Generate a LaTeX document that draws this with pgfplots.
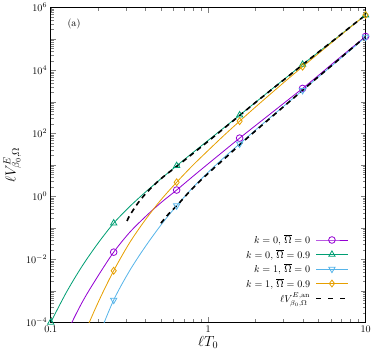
\documentclass[border=0pt]{standalone}
\usepackage{pgfplots}
\pgfplotsset{compat=1.18}
\definecolor{cpurple}{RGB}{148,0,211}
\definecolor{cgreen}{RGB}{0,158,115}
\definecolor{cblue}{RGB}{86,180,233}
\definecolor{corange}{RGB}{230,159,0}
\begin{document}
\begin{tikzpicture}
\begin{axis}[
  width=311pt, height=311pt, scale only axis,
  xmode=log, ymode=log,
  xmin=0.0999, xmax=10, ymin=0.999e-4, ymax=1e6,
  xtick={0.1,1,10}, xticklabels={$0.1$,$1$,$10$},
  minor xtick={0.2,0.3,0.4,0.5,0.6,0.7,0.8,0.9,2,3,4,5,6,7,8,9},
  ytick={1e-4,1e-3,1e-2,0.1,1,10,100,1000,1e4,1e5,1e6},
  yticklabels={$10^{-4}$,,$10^{-2}$,,$10^{0}$,,$10^{2}$,,$10^{4}$,,$10^{6}$},
  minor ytick={2e-4,3e-4,4e-4,5e-4,6e-4,7e-4,8e-4,9e-4,
    2e-3,3e-3,4e-3,5e-3,6e-3,7e-3,8e-3,9e-3,
    2e-2,3e-2,4e-2,5e-2,6e-2,7e-2,8e-2,9e-2,
    0.2,0.3,0.4,0.5,0.6,0.7,0.8,0.9,
    2,3,4,5,6,7,8,9,
    20,30,40,50,60,70,80,90,
    200,300,400,500,600,700,800,900,
    2000,3000,4000,5000,6000,7000,8000,9000,
    2e4,3e4,4e4,5e4,6e4,7e4,8e4,9e4,
    2e5,3e5,4e5,5e5,6e5,7e5,8e5,9e5},
  tick align=inside,
  major tick length=5pt, minor tick length=3pt,
  axis line style={line width=0.6pt},
  xlabel={$\ell T_0$}, ylabel={$\ell V^{E}_{\beta_0,\Omega}$},
  label style={font=\Large},
  xlabel style={yshift=3pt},
  ylabel style={yshift=-2pt},
  legend plot pos=right,
  legend cell align=right,
  legend style={draw=none, fill=none, at={(0.95,0.048)}, anchor=south east,
    row sep=0pt, inner sep=1pt, /tikz/column sep=3pt},
  legend image code/.code={\draw[mark repeat=2,mark phase=2,#1] plot coordinates {(0cm,0cm)(0.55cm,0cm)(1.1cm,0cm)};},
  every axis plot/.append style={line width=0.8pt},
]
\addlegendimage{cpurple, mark=o, mark size=3.3pt}
\addlegendentry{$k=0,\,\overline{\Omega}=0$}
\addlegendimage{cgreen, mark=triangle, mark size=3.6pt}
\addlegendentry{$k=0,\,\overline{\Omega}=0.9$}
\addlegendimage{cblue, mark=triangle, mark size=3.6pt, mark options={rotate=180}}
\addlegendentry{$k=1,\,\overline{\Omega}=0$}
\addlegendimage{corange, mark=diamond, mark size=3.4pt}
\addlegendentry{$k=1,\,\overline{\Omega}=0.9$}
\addlegendimage{black, line width=1.6pt, dash pattern=on 5pt off 7pt}
\addlegendentry{$\ell V^{E,\mathrm{an}}_{\beta_0,\Omega}$}
% ---- k=0, Omega=0 (curve)
\addplot[cpurple, smooth, no marks, forget plot] coordinates {
(0.1,2.51e-6)(0.12589,4.27e-5)(0.15849,4.37e-4)(0.19953,2.95e-3)(0.25119,1.70e-2)
(0.31623,7.08e-2)(0.39811,0.224)(0.50119,0.631)(0.63096,1.596)(0.79433,4.198)
(1,10.86)(1.2589,27.80)(1.5849,71.1)(1.9953,176.6)(2.5119,437.5)
(3.1623,1086)(3.9811,2692)(5.0119,6918)(6.3096,18197)(7.9433,46774)(10,120226)};
% ---- k=0, Omega=0.9 (curve)
\addplot[cgreen, smooth, no marks, forget plot] coordinates {
(0.1,1.0e-4)(0.12589,9.12e-4)(0.15849,6.17e-3)(0.19953,3.24e-2)(0.25119,0.1413)
(0.31623,0.468)(0.39811,1.349)(0.50119,3.631)(0.63096,9.419)(0.79433,23.99)
(1,60.26)(1.2589,151.4)(1.5849,380.2)(1.9953,966)(2.5119,2455)
(3.1623,6166)(3.9811,15490)(5.0119,38019)(6.3096,93325)(7.9433,234423)(10,575440)};
% ---- k=1, Omega=0 (curve)
\addplot[cblue, smooth, no marks, forget plot] coordinates {
(0.1,1e-9)(0.12589,5.01e-8)(0.15849,1.585e-6)(0.19953,3.162e-5)(0.25119,5.13e-4)
(0.31623,4.27e-3)(0.39811,2.512e-2)(0.50119,0.1230)(0.63096,0.5093)(0.79433,1.849)
(1,5.848)(1.2589,17.06)(1.5849,46.77)(1.9953,127.4)(2.5119,338.8)
(3.1623,891.3)(3.9811,2344)(5.0119,6166)(6.3096,16218)(7.9433,42658)(10,114815)};
% ---- k=1, Omega=0.9 (curve)
\addplot[corange, smooth, no marks, forget plot] coordinates {
(0.1,2.0e-8)(0.12589,1e-6)(0.15849,2.82e-5)(0.19953,4.17e-4)(0.25119,4.37e-3)
(0.31623,3.31e-2)(0.39811,0.1778)(0.50119,0.7762)(0.63096,2.818)(0.79433,9.441)
(1,28.84)(1.2589,86.10)(1.5849,245.5)(1.9953,683.9)(2.5119,1862)
(3.1623,5012)(3.9811,13183)(5.0119,34277)(6.3096,88510)(7.9433,227510)(10,582100)};
% ---- markers
\addplot[cpurple, only marks, mark=o, mark size=3.3pt, forget plot] coordinates {
(0.25119,1.70e-2)(0.63096,1.596)(1.5849,71.1)(3.9811,2692)(10,120226)};
\addplot[cgreen, only marks, mark=triangle, mark size=3.6pt, forget plot] coordinates {
(0.1,1.0e-4)(0.25119,0.1413)(0.63096,9.419)(1.5849,380.2)(3.9811,15490)(10,575440)};
\addplot[cblue, only marks, mark=triangle, mark size=3.6pt, mark options={rotate=180}, forget plot] coordinates {
(0.25119,5.13e-4)(0.63096,0.5093)(1.5849,46.77)(3.9811,2344)(10,114815)};
\addplot[corange, only marks, mark=diamond, mark size=3.4pt, forget plot] coordinates {
(0.25119,4.37e-3)(0.63096,2.818)(1.5849,245.5)(3.9811,13183)(10,582100)};
% ---- analytic, upper
\addplot[black, smooth, line width=1.6pt, dash pattern=on 5pt off 4pt, forget plot] coordinates {
(0.3055,0.166)(0.3162,0.240)(0.3548,0.575)(0.3981,1.175)(0.4467,2.138)(0.5012,3.631)
(0.5623,5.754)(0.6310,8.913)(0.7079,14.13)(0.7943,22.39)(0.8913,35.48)(1,56.23)
(1.2589,144.5)(1.5849,371.5)(1.9953,955.0)(2.5119,2399)(3.1623,6026)(3.9811,15136)
(5.0119,38019)(6.3096,93325)(7.9433,234423)(10,575440)};
% ---- analytic, lower
\addplot[black, smooth, line width=1.6pt, dash pattern=on 5pt off 4pt, forget plot] coordinates {
(0.5012,0.1413)(0.5623,0.2818)(0.6310,0.5012)(0.7079,0.9550)(0.7943,1.778)(0.8913,3.162)
(1,5.370)(1.1220,9.120)(1.2589,15.14)(1.4125,25.70)(1.5849,43.65)(1.9953,120.2)
(2.5119,323.6)(3.1623,871.0)(3.9811,2344)(5.0119,6310)(6.3096,16596)(7.9433,44668)(10,117490)};
\node[anchor=center] at (axis cs:0.1405,3.1e5) {(a)};
\end{axis}
\end{tikzpicture}
\end{document}
